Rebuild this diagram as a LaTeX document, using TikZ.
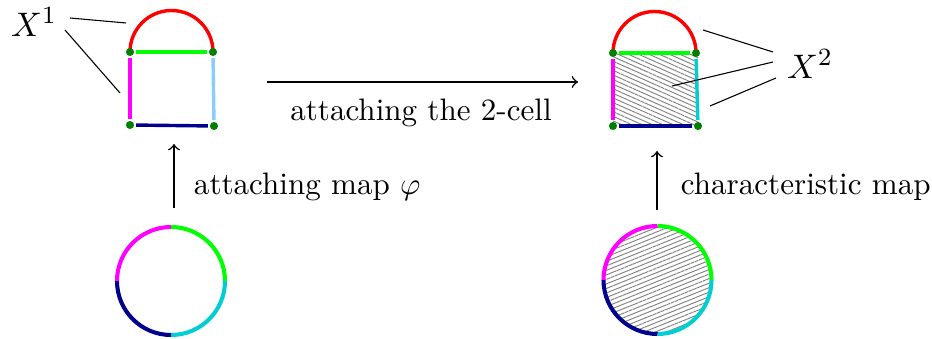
\documentclass[tikz,border=0pt]{standalone}
\usetikzlibrary{patterns.meta}
\definecolor{cred}{RGB}{255,0,0}
\definecolor{cgreen}{RGB}{0,255,0}
\definecolor{cmag}{RGB}{255,0,255}
\definecolor{clblue}{RGB}{135,206,250}
\definecolor{cnavy}{RGB}{0,0,140}
\definecolor{ccyan}{RGB}{0,206,209}
\definecolor{cdot}{RGB}{0,128,0}
\tikzset{
  edge/.style={line width=1.1pt, shorten <=2pt, shorten >=2pt},
  arcedge/.style={line width=1.1pt},
  ringedge/.style={line width=1.3pt},
  vdot/.style={circle, fill=cdot, inner sep=0pt, minimum size=2.6pt},
  pointer/.style={line width=0.35pt},
  mapto/.style={->, line width=0.5pt},
  lbl/.style={font=\fontsize{10}{12}\selectfont},
  biglbl/.style={font=\fontsize{11}{13}\selectfont},
}
\begin{document}
\begin{tikzpicture}[x=0.322pt, y=-0.322pt]
\useasboundingbox (0,0) rectangle (932,339);
% ---------- left: X^1 ----------
\coordinate (a1) at (130,52);
\coordinate (b1) at (213,52);
\coordinate (c1) at (130,125);
\coordinate (d1) at (214,126);
\draw[arcedge, cred] (a1) arc[start angle=180, end angle=360, radius=41.5];
\draw[edge, cgreen] (a1) -- (b1);
\draw[edge, cmag] (a1) -- (c1);
\draw[edge, clblue] (b1) -- (d1);
\draw[edge, cnavy] (c1) -- (d1);
\node[vdot] (A1) at (a1) {};
\node[vdot] (B1) at (b1) {};
\node[vdot] (C1) at (c1) {};
\node[vdot] (D1) at (d1) {};
\node[biglbl] (X1) at (34,22) {$X^1$};
\coordinate (p1) at (126,23);
\coordinate (p2) at (120,93);
\draw[pointer] (70,18) -- (p1);
\draw[pointer] (65,30) -- (p2);
% ---------- right: X^2 ----------
\coordinate (a2) at (613,53);
\coordinate (b2) at (696,53);
\coordinate (c2) at (613,126);
\coordinate (d2) at (698,126);
\fill[pattern={Lines[angle=-24, distance=1.35pt, line width=0.3pt]}, pattern color=gray] (a2) rectangle (d2);
\draw[arcedge, cred] (a2) arc[start angle=180, end angle=360, radius=41.5];
\draw[edge, cgreen] (a2) -- (b2);
\draw[edge, cmag] (a2) -- (c2);
\draw[edge, ccyan] (b2) -- (d2);
\draw[edge, cnavy] (c2) -- (d2);
\node[vdot] (A2) at (a2) {};
\node[vdot] (B2) at (b2) {};
\node[vdot] (C2) at (c2) {};
\node[vdot] (D2) at (d2) {};
\node[biglbl] (X2) at (810,64) {$X^2$};
\coordinate (q1) at (703,30);
\coordinate (q2) at (672,86);
\coordinate (q3) at (710,106);
\draw[pointer] (773,52) -- (q1);
\draw[pointer] (773,62) -- (q2);
\draw[pointer] (776,78) -- (q3);
% ---------- top arrow ----------
\coordinate (h1) at (267,82);
\coordinate (h2) at (578,82);
\draw[mapto] (h1) -- (h2);
\node[lbl] (t1) at (421,113) {attaching the 2-cell};
% ---------- left circle ----------
\coordinate (o1) at (171,281);
\draw[ringedge, cgreen] (o1) ++(-90:54) arc[start angle=-90, end angle=0, radius=54];
\draw[ringedge, ccyan] (o1) ++(0:54) arc[start angle=0, end angle=90, radius=54];
\draw[ringedge, cnavy] (o1) ++(90:54) arc[start angle=90, end angle=180, radius=54];
\draw[ringedge, cmag] (o1) ++(180:54) arc[start angle=180, end angle=270, radius=54];
\coordinate (u1) at (174,208);
\coordinate (v1) at (174,144);
\draw[mapto] (u1) -- (v1);
\node[lbl, anchor=west] (t2) at (183,187) {attaching map $\varphi$};
% ---------- right circle ----------
\coordinate (o2) at (657.5,280);
\fill[pattern={Lines[angle=22, distance=1.35pt, line width=0.3pt]}, pattern color=gray] (o2) circle[radius=54];
\draw[ringedge, cgreen] (o2) ++(-90:54) arc[start angle=-90, end angle=0, radius=54];
\draw[ringedge, ccyan] (o2) ++(0:54) arc[start angle=0, end angle=90, radius=54];
\draw[ringedge, cnavy] (o2) ++(90:54) arc[start angle=90, end angle=180, radius=54];
\draw[ringedge, cmag] (o2) ++(180:54) arc[start angle=180, end angle=270, radius=54];
\coordinate (u2) at (657,210);
\coordinate (v2) at (657,151);
\draw[mapto] (u2) -- (v2);
\node[lbl, anchor=west] (t3) at (670,187) {characteristic map};
\end{tikzpicture}
\end{document}
